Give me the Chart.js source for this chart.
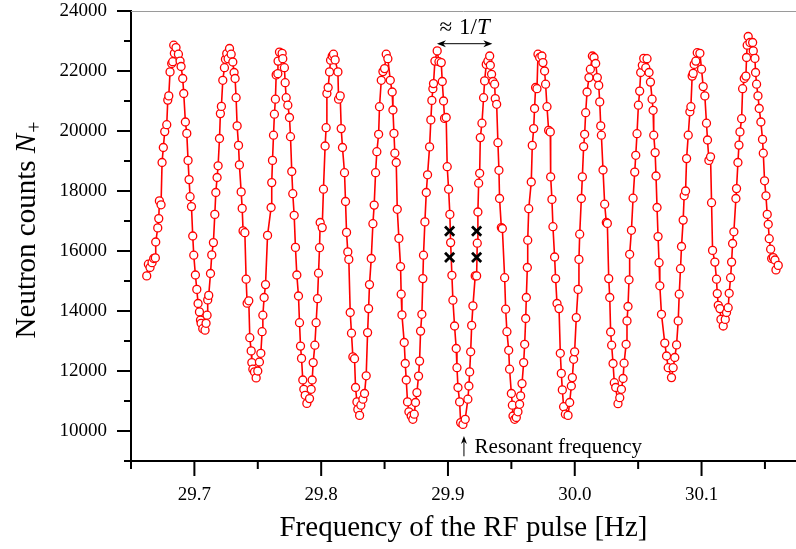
<!DOCTYPE html>
<html>
<head>
<meta charset="utf-8">
<script src="https://cdn.jsdelivr.net/npm/chart.js@4/dist/chart.umd.min.js"></script>
<style>
html, body { margin: 0; padding: 0; background: #fff; overflow: hidden; }
#wrap { width: 796px; height: 549px; }
</style>
</head>
<body>
<div id="wrap"><canvas id="ramsey"></canvas></div>
<script>
// RF frequency scan (Hz) and neutron counts N+
const freq = [
  29.6624, 29.6637, 29.6650, 29.6666, 29.6679, 29.6692, 29.6695, 29.6711, 29.6719, 29.6724,
  29.6737, 29.6745, 29.6755, 29.6766, 29.6782, 29.6790, 29.6798, 29.6808, 29.6821, 29.6829,
  29.6837, 29.6842, 29.6855, 29.6874, 29.6887, 29.6895, 29.6908, 29.6916, 29.6929, 29.6940,
  29.6950, 29.6958, 29.6966, 29.6977, 29.6987, 29.6995, 29.7008, 29.7019, 29.7029, 29.7040,
  29.7048, 29.7053, 29.7066, 29.7084, 29.7092, 29.7100, 29.7105, 29.7113, 29.7127, 29.7137,
  29.7150, 29.7161, 29.7169, 29.7179, 29.7187, 29.7198, 29.7205, 29.7213, 29.7224, 29.7237,
  29.7245, 29.7255, 29.7266, 29.7277, 29.7290, 29.7303, 29.7313, 29.7321, 29.7329, 29.7337,
  29.7348, 29.7355, 29.7369, 29.7377, 29.7384, 29.7398, 29.7408, 29.7416, 29.7429, 29.7437,
  29.7448, 29.7453, 29.7461, 29.7474, 29.7487, 29.7500, 29.7513, 29.7524, 29.7534, 29.7540,
  29.7550, 29.7561, 29.7577, 29.7605, 29.7610, 29.7616, 29.7624, 29.7631, 29.7639, 29.7645,
  29.7658, 29.7660, 29.7671, 29.7692, 29.7697, 29.7710, 29.7716, 29.7724, 29.7737, 29.7750,
  29.7758, 29.7768, 29.7776, 29.7787, 29.7797, 29.7808, 29.7821, 29.7829, 29.7837, 29.7845,
  29.7855, 29.7863, 29.7874, 29.7887, 29.7908, 29.7921, 29.7929, 29.7937, 29.7950, 29.7960,
  29.7971, 29.7979, 29.7987, 29.7992, 29.8008, 29.8018, 29.8031, 29.8039, 29.8045, 29.8055,
  29.8066, 29.8074, 29.8087, 29.8097, 29.8110, 29.8132, 29.8137, 29.8150, 29.8158, 29.8168,
  29.8184, 29.8192, 29.8200, 29.8210, 29.8218, 29.8229, 29.8239, 29.8250, 29.8263, 29.8271,
  29.8282, 29.8289, 29.8303, 29.8313, 29.8329, 29.8342, 29.8355, 29.8366, 29.8374, 29.8381,
  29.8395, 29.8408, 29.8418, 29.8429, 29.8439, 29.8453, 29.8460, 29.8474, 29.8487, 29.8500,
  29.8513, 29.8526, 29.8545, 29.8560, 29.8566, 29.8574, 29.8581, 29.8592, 29.8600, 29.8613,
  29.8626, 29.8631, 29.8637, 29.8655, 29.8663, 29.8671, 29.8681, 29.8692, 29.8710, 29.8723,
  29.8734, 29.8744, 29.8755, 29.8768, 29.8776, 29.8784, 29.8794, 29.8802, 29.8807, 29.8818,
  29.8829, 29.8839, 29.8855, 29.8865, 29.8873, 29.8881, 29.8886, 29.8897, 29.8915, 29.8929,
  29.8947, 29.8955, 29.8965, 29.8973, 29.8986, 29.8994, 29.9005, 29.9015, 29.9021, 29.9031,
  29.9039, 29.9052, 29.9065, 29.9071, 29.9079, 29.9092, 29.9100, 29.9118, 29.9136, 29.9157,
  29.9165, 29.9171, 29.9179, 29.9187, 29.9197, 29.9215, 29.9226, 29.9231, 29.9236, 29.9242,
  29.9250, 29.9255, 29.9268, 29.9281, 29.9289, 29.9302, 29.9315, 29.9329, 29.9334, 29.9344,
  29.9355, 29.9368, 29.9373, 29.9384, 29.9394, 29.9402, 29.9407, 29.9421, 29.9429, 29.9447,
  29.9455, 29.9465, 29.9479, 29.9486, 29.9500, 29.9508, 29.9513, 29.9526, 29.9539, 29.9552,
  29.9565, 29.9573, 29.9584, 29.9597, 29.9605, 29.9613, 29.9618, 29.9626, 29.9629, 29.9637,
  29.9657, 29.9665, 29.9676, 29.9683, 29.9691, 29.9702, 29.9710, 29.9723, 29.9741, 29.9749,
  29.9762, 29.9770, 29.9781, 29.9794, 29.9807, 29.9810, 29.9820, 29.9828, 29.9841, 29.9849,
  29.9860, 29.9876, 29.9886, 29.9894, 29.9902, 29.9912, 29.9926, 29.9947, 29.9960, 29.9973,
  29.9981, 29.9991, 29.9999, 30.0012, 30.0026, 30.0033, 30.0039, 30.0052, 30.0060, 30.0070,
  30.0078, 30.0086, 30.0097, 30.0112, 30.0123, 30.0139, 30.0152, 30.0165, 30.0178, 30.0189,
  30.0197, 30.0205, 30.0210, 30.0223, 30.0236, 30.0249, 30.0257, 30.0268, 30.0276, 30.0283,
  30.0291, 30.0302, 30.0312, 30.0323, 30.0341, 30.0355, 30.0368, 30.0381, 30.0389, 30.0405,
  30.0412, 30.0420, 30.0428, 30.0433, 30.0447, 30.0460, 30.0473, 30.0481, 30.0491, 30.0502,
  30.0512, 30.0520, 30.0533, 30.0544, 30.0560, 30.0570, 30.0586, 30.0597, 30.0610, 30.0618,
  30.0623, 30.0634, 30.0641, 30.0649, 30.0657, 30.0665, 30.0671, 30.0684, 30.0710, 30.0724,
  30.0737, 30.0763, 30.0776, 30.0789, 30.0803, 30.0816, 30.0824, 30.0834, 30.0842, 30.0855,
  30.0863, 30.0874, 30.0882, 30.0895, 30.0908, 30.0916, 30.0926, 30.0934, 30.0942, 30.0955,
  30.0966, 30.0987, 30.1000, 30.1013, 30.1026, 30.1039, 30.1047, 30.1058, 30.1071, 30.1079,
  30.1087, 30.1105, 30.1118, 30.1124, 30.1132, 30.1145, 30.1153, 30.1171, 30.1187, 30.1197,
  30.1210, 30.1218, 30.1229, 30.1237, 30.1245, 30.1255, 30.1271, 30.1276, 30.1287, 30.1295,
  30.1303, 30.1316, 30.1324, 30.1337, 30.1350, 30.1355, 30.1360, 30.1368, 30.1382, 30.1403,
  30.1408, 30.1421, 30.1426, 30.1434, 30.1445, 30.1455, 30.1468, 30.1481, 30.1487, 30.1497,
  30.1508, 30.1518, 30.1526, 30.1534, 30.1545, 30.1553, 30.1566, 30.1579, 30.1587, 30.1605
];
const counts = [
  15170, 15560, 15450, 15610, 15750, 15770, 16300, 16770, 17080, 17670,
  17540, 18950, 19450, 19980, 20210, 21030, 21170, 21970, 22250, 22310,
  22860, 22590, 22780, 22560, 22330, 22150, 21750, 21250, 20300, 19920,
  19020, 18380, 17810, 17480, 16500, 15860, 15200, 14720, 14250, 13970,
  13700, 13590, 13410, 13360, 13590, 13860, 14370, 14520, 15250, 15870,
  16280, 17220, 17950, 18450, 18840, 19750, 20580, 20820, 21690, 22110,
  22390, 22580, 22410, 22750, 22560, 22300, 21950, 21750, 21110, 20170,
  19520, 18870, 17970, 17420, 16670, 16610, 15060, 14260, 14340, 13110,
  12670, 12280, 12060, 11970, 11770, 12000, 12300, 12590, 13310, 13860,
  14450, 14880, 16520, 17450, 18280, 19020, 19860, 20560, 21060, 21870,
  21910, 22330, 22630, 22590, 22410, 22110, 21610, 21110, 20860, 20450,
  19810, 18650, 17910, 17190, 16120, 15200, 14500, 13610, 12830, 12420,
  11700, 11390, 11190, 10920, 11080, 11390, 11700, 12280, 12860, 13610,
  14410, 15260, 16110, 16950, 16780, 18060, 19500, 20110, 21250, 21450,
  21970, 22360, 22500, 22560, 22370, 21970, 21060, 21170, 20080, 19450,
  18610, 17650, 16620, 15970, 15720, 13950, 13260, 12470, 12410, 11450,
  10970, 10720, 10520, 10860, 11060, 11250, 11840, 13280, 14080, 14880,
  15750, 16910, 17530, 18610, 19310, 19890, 20810, 21690, 21980, 22080,
  22560, 22410, 21690, 21300, 20700, 19920, 19260, 18950, 17390, 16420,
  15480, 14560, 13870, 12950, 12250, 11700, 10970, 10640, 10500, 10390,
  10560, 10950, 11280, 11830, 12330, 13330, 13890, 15080, 15860, 16970,
  17950, 18540, 19470, 20370, 21020, 21410, 21580, 22330, 22670, 22310,
  22280, 21650, 21000, 20420, 20450, 18810, 18060, 17220, 16280, 15190,
  14360, 13500, 12750, 12110, 11450, 10970, 10280, 10220, 10390, 11060,
  11500, 11970, 12640, 13520, 14170, 15170, 15170, 16260, 17300, 18260,
  18590, 19780, 20260, 21110, 21670, 22220, 22330, 22500, 22190, 21890,
  21650, 21560, 21080, 20890, 19610, 18690, 17750, 16780, 16750, 15110,
  14060, 13310, 12690, 12060, 11250, 10860, 10500, 10390, 10450, 10640,
  10890, 11170, 11580, 12280, 12890, 13750, 14450, 15450, 16360, 17410,
  18300, 19520, 20080, 20750, 21450, 21410, 22560, 22450, 22500, 22280,
  22000, 21560, 20810, 20020, 19970, 18470, 17720, 16810, 15800, 15080,
  14250, 14080, 12590, 11920, 11370, 10810, 10560, 10520, 10950, 11500,
  11780, 12390, 12640, 13780, 14720, 15720, 16560, 17750, 18470, 19480,
  19890, 20610, 21300, 21780, 22060, 22500, 22450, 22250, 21780, 21520,
  20970, 20170, 19860, 18700, 17560, 16950, 16920, 15080, 14450, 13300,
  12860, 12250, 11610, 11450, 10910, 11110, 11390, 11750, 12260, 12890,
  13670, 14150, 15040, 15890, 16690, 17760, 18630, 19190, 19910, 20860,
  21330, 21950, 22190, 22420, 22110, 22410, 21950, 21630, 21060, 20690,
  19860, 19280, 18500, 17450, 16480, 15610, 14840, 13890, 12930, 12500,
  12110, 11780, 12110, 12450, 12870, 13670, 14560, 15410, 16150, 17030,
  17840, 18000, 19080, 19860, 20640, 20810, 21830, 21920, 22220, 22330,
  22610, 22590, 22060, 21480, 21170, 20260, 19700, 19020, 19140, 17610,
  16020, 15630, 15060, 14580, 14190, 14080, 13720, 13500, 13720, 13950,
  14110, 14590, 15110, 15630, 16250, 16640, 17750, 18080, 18950, 19530,
  19970, 20410, 21410, 21750, 21830, 22450, 22860, 23150, 22950, 22950,
  22670, 22420, 21950, 21560, 21170, 20750, 20300, 19720, 19260, 18340,
  17840, 17220, 16890, 16410, 16060, 15750, 15780, 15700, 15370, 15520
];

// the four black crosses
const crossFreq = [29.9013, 29.9013, 29.9226, 29.9226];
const crossCounts = [16660, 15790, 16660, 15790];

// axes
const xMin = 29.65, xMax = 30.1745, xStep = 0.05;
const yMin = 9000, yMax = 24000, yStep = 1000;

// annotations (data units)
const periodFrom = 29.8913, periodTo = 29.9350, periodLevel = 22910, periodTextLevel = 23220;
const resonance = 29.9126, resTip = 9833, resBase = 9157, resTextFreq = 29.9210, resTextLevel = 9457;

const SERIF = '"Liberation Serif", "Times New Roman", serif';

function arrowHead(ctx, x, y, ang, len, half) {
    ctx.save();
    ctx.translate(x, y);
    ctx.rotate(ang);
    ctx.beginPath();
    ctx.moveTo(0, 0);
    ctx.lineTo(-len, -half);
    ctx.lineTo(-len * 0.7, 0);
    ctx.lineTo(-len, half);
    ctx.closePath();
    ctx.fill();
    ctx.restore();
}

const decor = {
    id: 'decor',
    afterDraw(chart) {
        const ctx = chart.ctx;
        const a = chart.chartArea;
        const xs = chart.scales.x, ys = chart.scales.y;
        ctx.save();

        // thin grey frame line on top
        ctx.strokeStyle = '#9a9a9a';
        ctx.lineWidth = 1;
        ctx.beginPath();
        ctx.moveTo(a.left, Math.round(a.top) + 0.5);
        ctx.lineTo(a.right, Math.round(a.top) + 0.5);
        ctx.stroke();

        // outward tick marks, long for labelled ones
        ctx.strokeStyle = '#000';
        ctx.lineWidth = 2;
        ctx.beginPath();
        xs.ticks.forEach(t => {
            const px = xs.getPixelForValue(t.value);
            const len = t.label ? 15 : 8;
            ctx.moveTo(px, a.bottom);
            ctx.lineTo(px, a.bottom + len);
        });
        ys.ticks.forEach(t => {
            const py = ys.getPixelForValue(t.value);
            const len = t.label ? 14 : 7;
            ctx.moveTo(a.left, py);
            ctx.lineTo(a.left - len, py);
        });
        ctx.stroke();

        // y title with italic N and subscript +
        ctx.fillStyle = '#000';
        const fMain = '29px ' + SERIF, fIt = 'italic 29px ' + SERIF, fSub = '20px ' + SERIF;
        const t1 = 'Neutron counts ';
        ctx.font = fMain; const w1 = ctx.measureText(t1).width;
        ctx.font = fIt; const w2 = ctx.measureText('N').width;
        ctx.font = fSub; const w3 = ctx.measureText('+').width;
        const total = w1 + w2 + 1 + w3;
        ctx.save();
        ctx.translate(25, (a.top + a.bottom) / 2 - 6);
        ctx.rotate(-Math.PI / 2);
        ctx.textBaseline = 'alphabetic';
        ctx.textAlign = 'left';
        let u = -total / 2;
        ctx.font = fMain; ctx.fillText(t1, u, 10); u += w1;
        ctx.font = fIt; ctx.fillText('N', u, 10); u += w2 + 1;
        ctx.font = fSub; ctx.fillText('+', u, 16);
        ctx.restore();

        // period arrow  ≈ 1/T
        const p0 = xs.getPixelForValue(periodFrom), p1 = xs.getPixelForValue(periodTo);
        const py = ys.getPixelForValue(periodLevel);
        ctx.lineWidth = 1;
        ctx.beginPath();
        ctx.moveTo(p0 + 3, py);
        ctx.lineTo(p1 - 3, py);
        ctx.stroke();
        arrowHead(ctx, p0, py, Math.PI, 9, 3.5);
        arrowHead(ctx, p1, py, 0, 9, 3.5);

        const ty = ys.getPixelForValue(periodTextLevel);
        const fT = '23px ' + SERIF, fTi = 'italic 23px ' + SERIF;
        ctx.font = fT;
        const wa = ctx.measureText('\u2248').width, wb = ctx.measureText('1/').width;
        ctx.font = fTi;
        const wc = ctx.measureText('T').width;
        const gap = 7;
        let tx = (p0 + p1) / 2 - (wa + gap + wb + wc) / 2;
        ctx.textBaseline = 'alphabetic';
        ctx.textAlign = 'left';
        ctx.font = fT; ctx.fillText('\u2248', tx, ty); tx += wa + gap;
        ctx.fillText('1/', tx, ty); tx += wb;
        ctx.font = fTi; ctx.fillText('T', tx, ty);

        // resonant frequency arrow
        const rx = xs.getPixelForValue(resonance);
        const rTip = ys.getPixelForValue(resTip), rBase = ys.getPixelForValue(resBase);
        ctx.beginPath();
        ctx.moveTo(rx, rBase);
        ctx.lineTo(rx, rTip + 3);
        ctx.stroke();
        arrowHead(ctx, rx, rTip, -Math.PI / 2, 8, 3);
        ctx.font = '21px ' + SERIF;
        ctx.textBaseline = 'middle';
        ctx.fillText('Resonant frequency', xs.getPixelForValue(resTextFreq), ys.getPixelForValue(resTextLevel));

        ctx.restore();
    }
};

new Chart(document.getElementById('ramsey'), {
    type: 'scatter',
    data: {
        datasets: [
            {
                label: 'crosses',
                data: crossFreq.map((f, i) => ({x: f, y: crossCounts[i]})),
                showLine: false,
                pointStyle: 'crossRot',
                pointRadius: 6.5,
                pointBorderWidth: 2.8,
                pointBorderColor: '#000',
                borderColor: '#000'
            },
            {
                label: 'N+',
                data: freq.map((f, i) => ({x: f, y: counts[i]})),
                showLine: true,
                borderColor: '#ff0000',
                borderWidth: 1.6,
                tension: 0,
                pointRadius: 4,
                pointBorderWidth: 1.3,
                pointBorderColor: '#ff0000',
                pointBackgroundColor: '#ffffff'
            }
        ]
    },
    options: {
        responsive: true,
        maintainAspectRatio: false,
        animation: false,
        events: [],
        layout: {autoPadding: false, padding: {top: 11, right: 0, bottom: 0, left: 0}},
        plugins: {legend: {display: false}, tooltip: {enabled: false}},
        scales: {
            x: {
                type: 'linear',
                min: xMin,
                max: xMax,
                afterFit: s => { s.height = 88; },
                // tick marks are drawn by the plugin; tickLength only spaces the labels
                grid: {display: false, drawTicks: true, tickLength: 23},
                border: {display: true, color: '#000', width: 2},
                ticks: {
                    stepSize: xStep,
                    includeBounds: false,
                    autoSkip: false,
                    maxRotation: 0,
                    maxTicksLimit: 100,
                    padding: 0,
                    color: '#000',
                    font: {family: SERIF, size: 19},
                    callback: v => {
                        const k = Math.round(v * 100);
                        return k % 10 === 0 ? (k / 100).toFixed(1) : '';
                    }
                },
                title: {
                    display: true,
                    text: 'Frequency of the RF pulse [Hz]',
                    color: '#000',
                    font: {family: SERIF, size: 29},
                    padding: {top: 0, bottom: 3}
                }
            },
            y: {
                min: yMin,
                max: yMax,
                afterFit: s => { s.width = 131; s.paddingTop = 0; s.paddingBottom = 0; },
                grid: {display: false, drawTicks: true, tickLength: 14},
                border: {display: true, color: '#000', width: 2},
                ticks: {
                    stepSize: yStep,
                    autoSkip: false,
                    maxTicksLimit: 100,
                    padding: 10,
                    color: '#000',
                    font: {family: SERIF, size: 19},
                    callback: v => (v % 2000 === 0 ? String(v) : '')
                },
                title: {display: false}
            }
        }
    },
    plugins: [decor]
});
</script>
</body>
</html>
